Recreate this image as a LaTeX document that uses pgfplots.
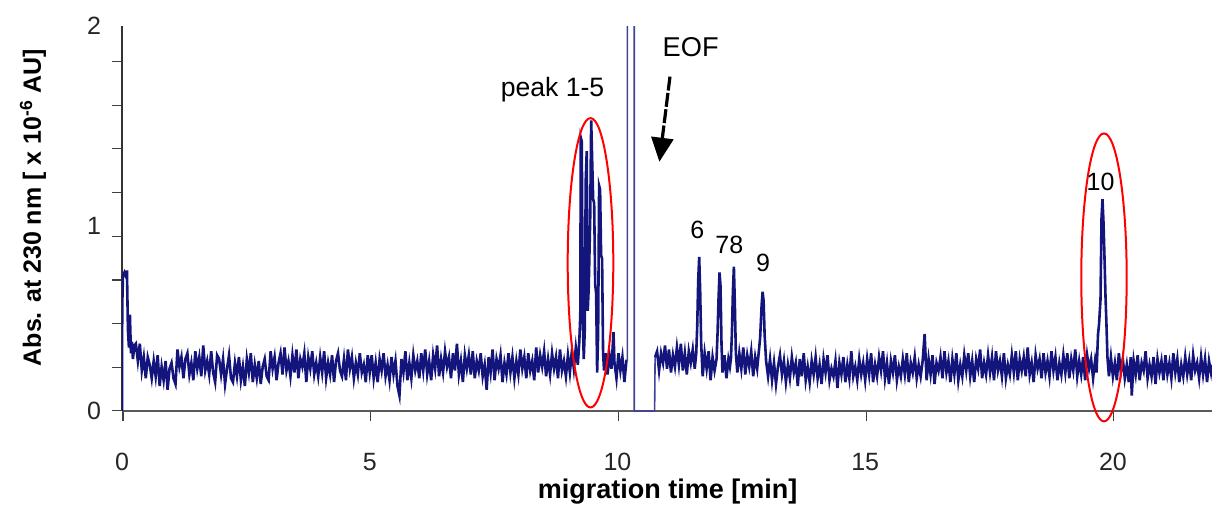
\documentclass[border=0pt]{standalone}
\usepackage{fontspec}
\setmainfont{Liberation Sans}
\usepackage{pgfplots}
\pgfplotsset{compat=1.18}
\usetikzlibrary{arrows.meta}
\definecolor{trace}{RGB}{20,20,125}
\begin{document}
\begin{tikzpicture}
\begin{axis}[
  at={(0,0)}, anchor=south west,
  scale only axis, width=545pt, height=192.5pt,
  xmin=0, xmax=22, ymin=0, ymax=2,
  axis x line=bottom, axis y line=left,
  x axis line style={-, draw=black!65, line width=0.9pt},
  y axis line style={-, draw=black!80, line width=0.6pt},
  tick align=outside,
  major tick length=0pt,
  minor tick length=4.8pt,
  every tick/.style={draw=black!75, line width=0.6pt},
  xtick={0,5,10,15,20},
  minor xtick={0.02,5.02,10.02,15.02,20.02},
  ytick={0,0.96,2.0},
  yticklabels={0,1,2},
  minor ytick={0.004,0.227,0.454,0.681,0.908,1.135,1.362,1.589,1.816},
  tick label style={font=\fontsize{12.5}{15}\selectfont, text=black!85},
  /pgf/number format/assume math mode=true,
  xticklabel style={yshift=-17.5pt},
  yticklabel style={xshift=-7pt},
  xlabel={\bfseries migration time [min]},
  xlabel style={font=\fontsize{13.5}{16}\selectfont, at={(axis description cs:0.5005,-0.21)}, anchor=center},
  ylabel={\bfseries Abs. at 230 nm [ x 10\textsuperscript{-6} AU]},
  ylabel style={font=\fontsize{12.5}{15}\selectfont, at={(axis description cs:-0.0817,0.5286)}, anchor=center},
  clip mode=individual,
]
% trace before the EOF
\addplot[trace, line width=1.3pt] table[row sep=\\] {
x y\\
0 0\\ 0.005 0.55\\ 0.02 0.70\\ 0.05 0.72\\ 0.08 0.70\\ 0.10 0.73\\ 0.12 0.42\\ 0.14 0.33\\ 0.16 0.50\\ 0.18 0.30\\ 0.20 0.36\\ 0.22 0.27\\ 0.25 0.34\\
0.28 0.35\\ 0.32 0.26\\ 0.36 0.35\\ 0.40 0.21\\ 0.44 0.28\\ 0.48 0.17\\ 0.52 0.28\\ 0.56 0.24\\ 0.60 0.17\\
0.64 0.26\\ 0.68 0.18\\ 0.72 0.29\\ 0.76 0.13\\ 0.80 0.23\\ 0.84 0.16\\ 0.88 0.26\\ 0.92 0.11\\ 0.96 0.22\\ 1.00 0.25\\ 1.04 0.17\\ 1.08 0.14\\
1.12 0.32\\ 1.16 0.23\\ 1.20 0.28\\ 1.24 0.17\\ 1.28 0.27\\ 1.32 0.30\\ 1.36 0.19\\ 1.40 0.25\\ 1.44 0.16\\ 1.48 0.31\\ 1.52 0.22\\ 1.56 0.28\\ 1.60 0.18\\ 1.64 0.34\\ 1.68 0.21\\ 1.72 0.26\\ 1.76 0.19\\ 1.80 0.31\\ 1.84 0.20\\ 1.88 0.15\\ 1.92 0.29\\ 1.96 0.27\\
2.00 0.19\\ 2.04 0.27\\ 2.08 0.14\\ 2.12 0.22\\ 2.16 0.29\\ 2.20 0.17\\ 2.24 0.15\\ 2.28 0.25\\ 2.32 0.18\\ 2.36 0.28\\ 2.40 0.16\\ 2.44 0.23\\ 2.48 0.13\\ 2.52 0.27\\ 2.56 0.20\\ 2.60 0.30\\ 2.64 0.15\\ 2.68 0.24\\ 2.72 0.17\\ 2.76 0.26\\ 2.80 0.14\\ 2.84 0.23\\ 2.88 0.27\\ 2.92 0.18\\ 2.96 0.16\\
3.00 0.31\\ 3.04 0.22\\ 3.08 0.28\\ 3.12 0.16\\ 3.16 0.25\\ 3.20 0.30\\ 3.24 0.19\\ 3.28 0.33\\ 3.32 0.21\\ 3.36 0.26\\ 3.40 0.18\\ 3.44 0.29\\ 3.48 0.20\\ 3.52 0.32\\ 3.56 0.17\\ 3.60 0.27\\ 3.64 0.23\\ 3.68 0.30\\ 3.72 0.15\\ 3.76 0.28\\ 3.80 0.22\\ 3.84 0.31\\ 3.88 0.19\\ 3.92 0.25\\ 3.96 0.18\\
4.00 0.28\\ 4.04 0.20\\ 4.08 0.31\\ 4.12 0.17\\ 4.16 0.25\\ 4.20 0.19\\ 4.24 0.29\\ 4.28 0.15\\ 4.32 0.26\\ 4.36 0.30\\ 4.40 0.21\\ 4.44 0.18\\ 4.48 0.27\\ 4.52 0.16\\ 4.56 0.32\\ 4.60 0.22\\ 4.64 0.28\\ 4.68 0.17\\ 4.72 0.25\\ 4.76 0.19\\ 4.80 0.30\\ 4.84 0.20\\ 4.88 0.24\\ 4.92 0.15\\ 4.96 0.29\\
5.00 0.20\\ 5.04 0.29\\ 5.08 0.17\\ 5.12 0.25\\ 5.16 0.15\\ 5.20 0.27\\ 5.24 0.21\\ 5.28 0.30\\ 5.32 0.18\\ 5.36 0.24\\ 5.40 0.16\\ 5.44 0.28\\ 5.48 0.19\\ 5.52 0.26\\ 5.56 0.13\\ 5.60 0.08\\ 5.64 0.27\\ 5.68 0.20\\ 5.72 0.31\\ 5.76 0.16\\ 5.80 0.25\\ 5.84 0.17\\ 5.88 0.29\\ 5.92 0.21\\ 5.96 0.26\\
6.00 0.17\\ 6.04 0.30\\ 6.08 0.21\\ 6.12 0.32\\ 6.16 0.19\\ 6.20 0.26\\ 6.24 0.16\\ 6.28 0.29\\ 6.32 0.22\\ 6.36 0.34\\ 6.40 0.18\\ 6.44 0.27\\ 6.48 0.20\\ 6.52 0.31\\ 6.56 0.23\\ 6.60 0.28\\ 6.64 0.17\\ 6.68 0.30\\ 6.72 0.21\\ 6.76 0.35\\ 6.80 0.19\\ 6.84 0.26\\ 6.88 0.15\\ 6.92 0.29\\ 6.96 0.22\\
7.00 0.29\\ 7.04 0.19\\ 7.08 0.31\\ 7.12 0.17\\ 7.16 0.26\\ 7.20 0.21\\ 7.24 0.30\\ 7.28 0.18\\ 7.32 0.24\\ 7.36 0.11\\ 7.40 0.28\\ 7.44 0.20\\ 7.48 0.32\\ 7.52 0.16\\ 7.56 0.27\\ 7.60 0.22\\ 7.64 0.29\\ 7.68 0.15\\ 7.72 0.25\\ 7.76 0.19\\ 7.80 0.30\\ 7.84 0.20\\ 7.88 0.28\\ 7.92 0.17\\ 7.96 0.26\\
8.00 0.19\\ 8.04 0.32\\ 8.08 0.22\\ 8.12 0.28\\ 8.16 0.17\\ 8.20 0.30\\ 8.24 0.21\\ 8.28 0.26\\ 8.32 0.16\\ 8.36 0.33\\ 8.40 0.20\\ 8.44 0.29\\ 8.48 0.23\\ 8.52 0.31\\ 8.56 0.18\\ 8.60 0.27\\ 8.64 0.19\\ 8.68 0.30\\ 8.72 0.22\\ 8.76 0.28\\ 8.80 0.17\\ 8.84 0.32\\ 8.88 0.21\\ 8.92 0.26\\ 8.96 0.18\\ 9.00 0.29\\ 9.04 0.20\\ 9.08 0.31\\
9.12 0.22\\ 9.16 0.33\\ 9.20 0.24\\ 9.23 0.36\\ 9.25 0.50\\ 9.26 1.42\\ 9.28 1.40\\ 9.30 0.48\\ 9.32 0.27\\ 9.34 0.42\\ 9.36 1.20\\ 9.38 1.35\\ 9.40 0.52\\ 9.42 0.64\\ 9.45 1.00\\ 9.47 1.51\\ 9.49 1.30\\ 9.51 1.10\\ 9.53 1.08\\ 9.55 0.66\\ 9.57 0.61\\ 9.59 0.20\\ 9.61 0.40\\ 9.63 1.17\\ 9.65 1.15\\ 9.67 0.81\\ 9.69 0.79\\ 9.71 0.30\\ 9.73 0.21\\ 9.76 0.30\\ 9.80 0.19\\ 9.84 0.29\\ 9.88 0.22\\ 9.92 0.41\\ 9.94 0.25\\ 9.98 0.17\\ 10.02 0.30\\ 10.06 0.21\\ 10.10 0.28\\ 10.14 0.15\\ 10.18 0.26\\ 10.20 0.26\\
};
% EOF disturbance (thin lines)
\addplot[trace!80, line width=0.8pt] table[row sep=\\] {
x y\\
10.20 0.26\\ 10.20 2.5\\ 10.34 2.5\\ 10.34 0\\ 10.75 0\\ 10.76 0.28\\
};
% trace after the EOF
\addplot[trace, line width=1.3pt] table[row sep=\\] {
x y\\
10.76 0.28\\
10.80 0.31\\ 10.84 0.21\\ 10.88 0.30\\ 10.92 0.25\\ 10.96 0.34\\ 11.00 0.22\\ 11.04 0.32\\ 11.08 0.20\\ 11.12 0.29\\ 11.16 0.23\\ 11.20 0.33\\ 11.24 0.24\\ 11.28 0.35\\ 11.32 0.21\\ 11.36 0.30\\ 11.40 0.19\\ 11.44 0.31\\ 11.48 0.25\\ 11.52 0.32\\ 11.56 0.22\\
11.59 0.30\\ 11.61 0.44\\ 11.63 0.68\\ 11.65 0.80\\ 11.67 0.62\\ 11.69 0.35\\ 11.72 0.18\\ 11.76 0.30\\ 11.80 0.22\\ 11.84 0.31\\ 11.88 0.16\\ 11.92 0.28\\ 11.96 0.21\\
12.00 0.27\\ 12.02 0.40\\ 12.04 0.58\\ 12.06 0.72\\ 12.08 0.65\\ 12.10 0.35\\ 12.12 0.20\\ 12.16 0.29\\ 12.20 0.17\\ 12.24 0.27\\ 12.27 0.23\\
12.29 0.27\\ 12.31 0.40\\ 12.33 0.62\\ 12.35 0.75\\ 12.37 0.55\\ 12.39 0.30\\ 12.42 0.20\\ 12.46 0.30\\ 12.50 0.22\\ 12.54 0.33\\ 12.58 0.19\\ 12.62 0.29\\ 12.66 0.23\\ 12.70 0.31\\ 12.74 0.18\\ 12.78 0.28\\ 12.82 0.22\\
12.85 0.30\\ 12.88 0.38\\ 12.91 0.55\\ 12.93 0.62\\ 12.95 0.57\\ 12.97 0.40\\ 13.00 0.26\\
13.04 0.18\\ 13.08 0.27\\ 13.12 0.16\\ 13.16 0.25\\ 13.20 0.14\\ 13.24 0.23\\ 13.28 0.29\\ 13.32 0.19\\ 13.36 0.26\\ 13.40 0.15\\ 13.44 0.24\\ 13.48 0.17\\ 13.52 0.28\\ 13.56 0.20\\ 13.60 0.25\\ 13.64 0.13\\ 13.68 0.27\\ 13.72 0.18\\ 13.76 0.30\\ 13.80 0.16\\ 13.84 0.23\\ 13.88 0.15\\ 13.92 0.26\\ 13.96 0.19\\
14.00 0.28\\ 14.04 0.17\\ 14.08 0.24\\ 14.12 0.14\\ 14.16 0.27\\ 14.20 0.20\\ 14.24 0.29\\ 14.28 0.16\\ 14.32 0.22\\ 14.36 0.18\\ 14.40 0.26\\ 14.44 0.12\\ 14.48 0.25\\ 14.52 0.19\\ 14.56 0.28\\ 14.60 0.15\\ 14.64 0.24\\ 14.68 0.17\\ 14.72 0.31\\ 14.76 0.18\\ 14.80 0.23\\ 14.84 0.16\\ 14.88 0.27\\ 14.92 0.19\\ 14.96 0.25\\
15.00 0.16\\ 15.04 0.27\\ 15.08 0.19\\ 15.12 0.30\\ 15.16 0.15\\ 15.20 0.24\\ 15.24 0.18\\ 15.28 0.28\\ 15.32 0.21\\ 15.36 0.31\\ 15.40 0.17\\ 15.44 0.25\\ 15.48 0.14\\ 15.52 0.26\\ 15.56 0.20\\ 15.60 0.29\\ 15.64 0.16\\ 15.68 0.23\\ 15.72 0.18\\ 15.76 0.27\\ 15.80 0.19\\ 15.84 0.30\\ 15.88 0.15\\ 15.92 0.25\\ 15.96 0.20\\
16.00 0.28\\ 16.04 0.17\\ 16.08 0.24\\ 16.12 0.18\\ 16.16 0.26\\ 16.20 0.40\\ 16.24 0.16\\ 16.28 0.27\\ 16.32 0.19\\ 16.36 0.29\\ 16.40 0.14\\ 16.44 0.25\\ 16.48 0.21\\ 16.52 0.28\\ 16.56 0.17\\ 16.60 0.31\\ 16.64 0.20\\ 16.68 0.26\\ 16.72 0.15\\ 16.76 0.27\\ 16.80 0.19\\ 16.84 0.30\\ 16.88 0.16\\ 16.92 0.24\\ 16.96 0.18\\
17.00 0.29\\ 17.04 0.21\\ 17.08 0.30\\ 17.12 0.18\\ 17.16 0.26\\ 17.20 0.15\\ 17.24 0.27\\ 17.28 0.22\\ 17.32 0.32\\ 17.36 0.17\\ 17.40 0.25\\ 17.44 0.19\\ 17.48 0.29\\ 17.52 0.20\\ 17.56 0.28\\ 17.60 0.16\\ 17.64 0.31\\ 17.68 0.21\\ 17.72 0.26\\ 17.76 0.18\\ 17.80 0.30\\ 17.84 0.17\\ 17.88 0.24\\ 17.92 0.19\\ 17.96 0.29\\
18.00 0.20\\ 18.04 0.31\\ 18.08 0.16\\ 18.12 0.27\\ 18.16 0.21\\ 18.20 0.28\\ 18.24 0.18\\ 18.28 0.33\\ 18.32 0.19\\ 18.36 0.25\\ 18.40 0.15\\ 18.44 0.29\\ 18.48 0.22\\ 18.52 0.27\\ 18.56 0.17\\ 18.60 0.30\\ 18.64 0.20\\ 18.68 0.26\\ 18.72 0.18\\ 18.76 0.31\\ 18.80 0.21\\ 18.84 0.28\\ 18.88 0.16\\ 18.92 0.25\\ 18.96 0.19\\
19.00 0.29\\ 19.04 0.20\\ 19.08 0.30\\ 19.12 0.17\\ 19.16 0.27\\ 19.20 0.21\\ 19.24 0.32\\ 19.28 0.18\\ 19.32 0.26\\ 19.36 0.19\\ 19.40 0.28\\ 19.44 0.16\\ 19.48 0.29\\ 19.52 0.22\\ 19.56 0.27\\ 19.60 0.17\\ 19.64 0.26\\
19.67 0.20\\ 19.70 0.40\\ 19.72 0.45\\ 19.75 0.58\\ 19.77 1.00\\ 19.79 1.10\\ 19.81 0.98\\ 19.83 0.80\\ 19.85 0.60\\ 19.87 0.45\\ 19.89 0.28\\ 19.92 0.18\\
19.96 0.28\\ 20.00 0.18\\ 20.04 0.25\\ 20.08 0.16\\ 20.12 0.30\\ 20.16 0.20\\ 20.20 0.27\\ 20.24 0.17\\ 20.28 0.24\\ 20.32 0.15\\ 20.36 0.28\\ 20.38 0.08\\ 20.42 0.26\\ 20.46 0.19\\ 20.50 0.29\\ 20.54 0.16\\ 20.58 0.25\\ 20.62 0.21\\ 20.66 0.31\\ 20.70 0.17\\ 20.74 0.24\\ 20.78 0.18\\ 20.82 0.28\\ 20.86 0.14\\ 20.90 0.27\\ 20.94 0.20\\ 20.98 0.26\\
21.02 0.16\\ 21.06 0.29\\ 21.10 0.19\\ 21.14 0.25\\ 21.18 0.17\\ 21.22 0.30\\ 21.26 0.20\\ 21.30 0.27\\ 21.34 0.15\\ 21.38 0.24\\ 21.42 0.18\\ 21.46 0.28\\ 21.50 0.19\\ 21.54 0.26\\ 21.58 0.16\\ 21.62 0.29\\ 21.66 0.21\\ 21.70 0.25\\ 21.74 0.17\\ 21.78 0.28\\ 21.82 0.19\\ 21.86 0.27\\ 21.90 0.15\\ 21.94 0.26\\ 21.98 0.20\\ 22.00 0.24\\
};
\draw[red, line width=1pt] (axis cs:9.456,0.770) ellipse [x radius=11.4pt, y radius=72.35pt];
\draw[red, line width=1pt] (axis cs:19.82,0.694) ellipse [x radius=11.35pt, y radius=72pt];
\draw[black, line width=1.6pt, dash pattern=on 7pt off 1.2pt, -{Triangle[length=12pt,width=11pt]}] (axis cs:11.06,1.737) -- (axis cs:10.847,1.295);
\node[font=\fontsize{13.3}{16}\selectfont] at (axis cs:8.69,1.667) {peak 1-5};
\node[font=\fontsize{13.6}{16}\selectfont] at (axis cs:11.478,1.891) {EOF};
\node[font=\fontsize{12.5}{15}\selectfont] at (axis cs:11.61,0.940) {6};
\node[font=\fontsize{12.5}{15}\selectfont] at (axis cs:12.258,0.862) {78};
\node[font=\fontsize{12.5}{15}\selectfont] at (axis cs:12.94,0.769) {9};
\node[font=\fontsize{12.5}{15}\selectfont] at (axis cs:19.75,1.191) {10};
\end{axis}
\pgfresetboundingbox
\path[use as bounding box] (-61pt,-52.5pt) rectangle (545pt,205.5pt);
\end{tikzpicture}
\end{document}
